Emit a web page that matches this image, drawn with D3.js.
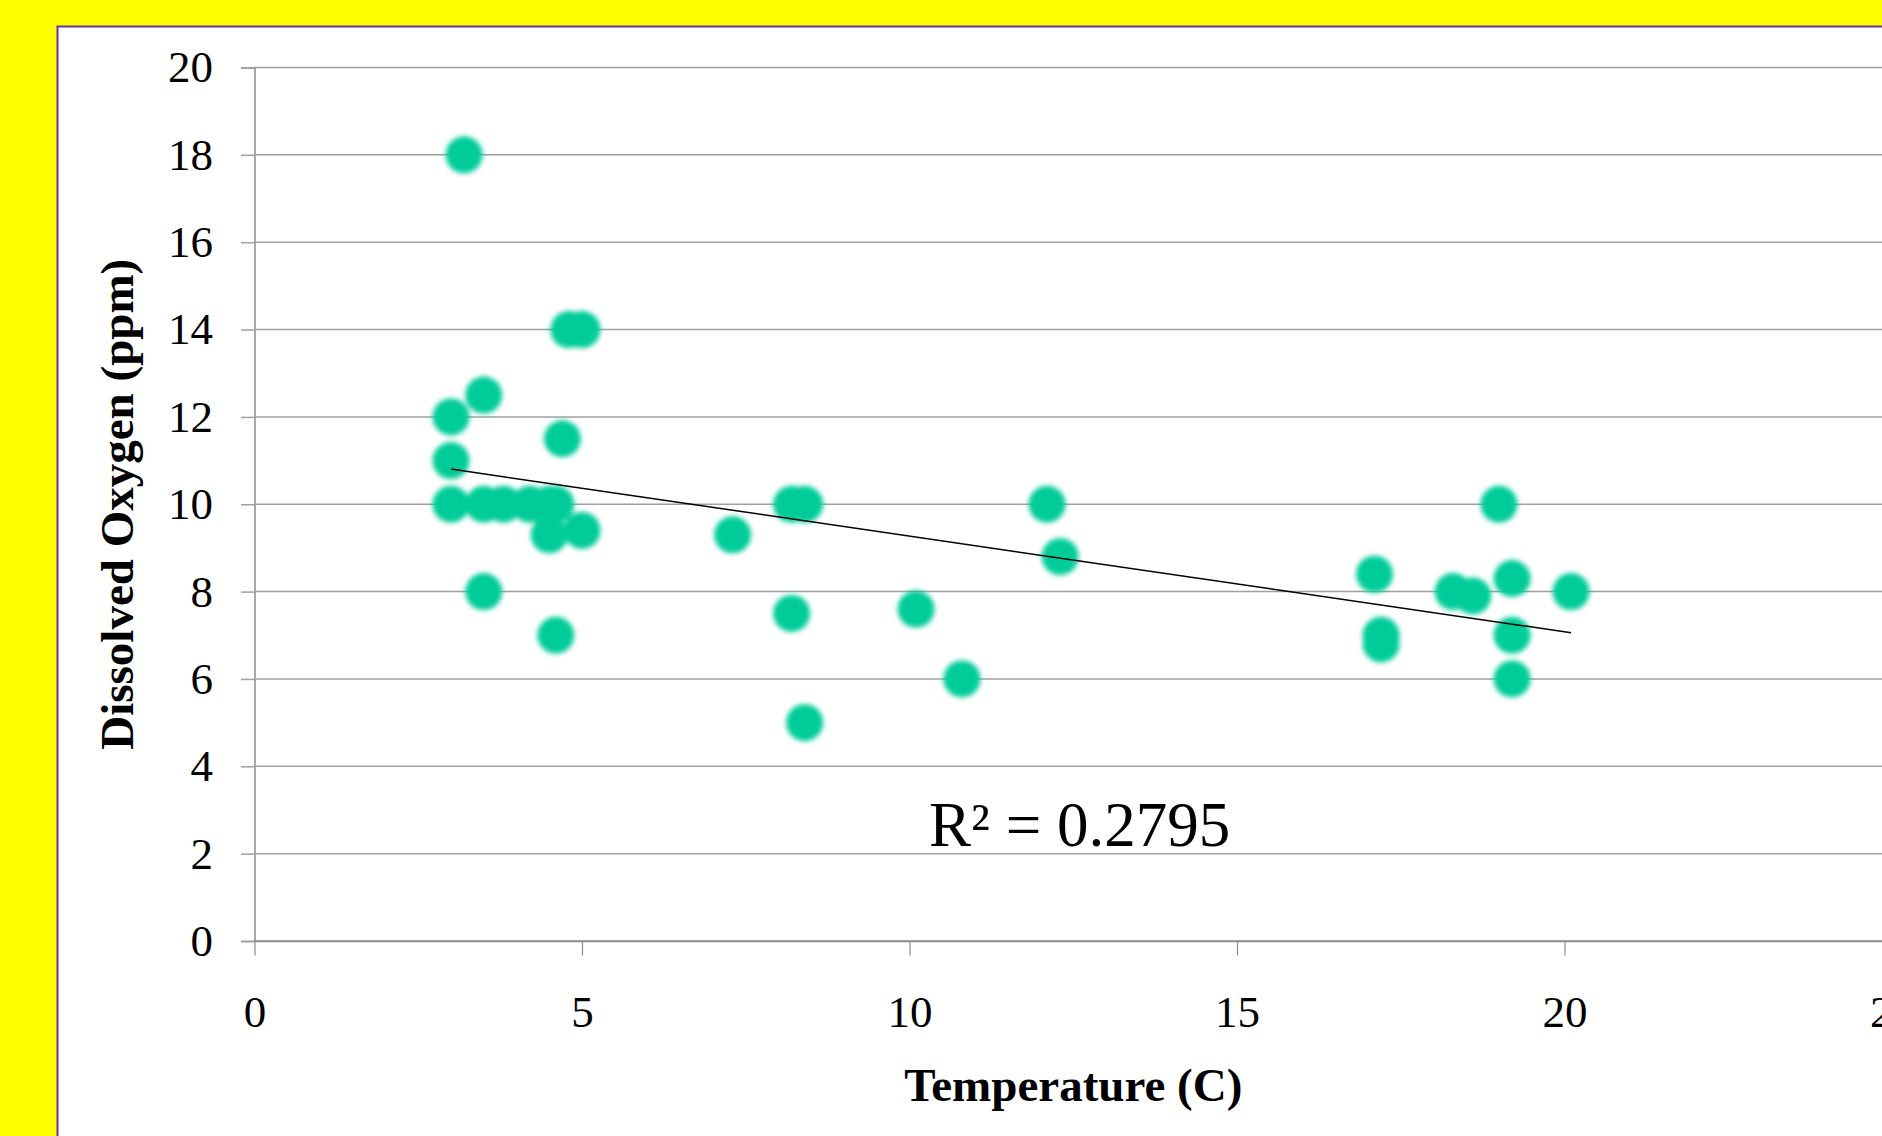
<!DOCTYPE html>
<html>
<head>
<meta charset="utf-8">
<script src="https://cdn.jsdelivr.net/npm/d3@7"></script>
<style>
  body { margin: 0; background: #ffff00; }
  text { font-family: "Liberation Serif", "Times New Roman", serif; fill: #000; }
</style>
</head>
<body>
<div id="graph"></div>
<script>
// temperature (C) and dissolved oxygen (ppm)
let temperature = [3.2, 3.5, 3.0, 3.0, 4.7, 4.8, 5.0,
                   3.0, 3.5, 3.8, 4.2, 4.5, 4.6,
                   4.5, 5.0, 3.5, 4.6,
                   7.3, 8.2, 8.4, 8.2, 8.4, 10.1, 10.8, 12.1, 12.3,
                   17.1, 17.2, 17.2, 18.3, 18.6, 19.0, 19.2, 19.2, 19.2, 20.1];
let oxygen = [18, 12.5, 12, 11, 11.5, 14, 14,
              10, 10, 10, 10, 10, 10,
              9.3, 9.4, 8, 7,
              9.3, 10, 10, 7.5, 5, 7.6, 6, 10, 8.8,
              8.4, 7, 6.8, 8, 7.9, 10, 8.3, 7, 6, 8];
let xTicks = [0, 5, 10, 15, 20, 25];
let yTicks = [0, 2, 4, 6, 8, 10, 12, 14, 16, 18, 20];
let r2Label = "R\u00b2 = 0.2795";

let width = 1882, height = 1136;
let margin = {left: 254.5, top: 67.5, right: -10, bottom: 195};

let svg = d3.select('#graph')
    .append("svg")
    .attr("width", width)
    .attr("height", height)
    .style("display", "block");

let defs = svg.append("defs");
defs.append("filter")
    .attr("id", "soft")
    .attr("x", "-50%").attr("y", "-50%")
    .attr("width", "200%").attr("height", "200%")
    .append("feGaussianBlur")
    .attr("stdDeviation", 2.8);

// white chart panel with purple border
svg.append("rect")
    .attr("x", 57.5)
    .attr("y", 26.5)
    .attr("width", width)
    .attr("height", height)
    .attr("fill", "white")
    .attr("stroke", "#7030a0")
    .attr("stroke-width", 2);

let data = temperature.map(function(t, i) { return {temp: t, oxy: oxygen[i]}; });

let x = d3.scaleLinear()
    .domain([0, 25])
    .range([margin.left, width - margin.right]);

let y = d3.scaleLinear()
    .domain([0, 20])
    .range([height - margin.bottom, margin.top]);

// horizontal gridlines + left axis
let yAxis = svg.append("g")
    .attr("transform", `translate(${margin.left}, 0)`)
    .call(d3.axisLeft(y).tickValues(yTicks).tickSize(13.5).tickPadding(28));
yAxis.select(".domain").attr("stroke", "#8c8c8c").attr("stroke-width", 1.5);
yAxis.selectAll(".tick line").attr("stroke", "#a0a0a0").attr("stroke-width", 1.5);
yAxis.selectAll(".tick text")
    .style("font-family", "Liberation Serif")
    .style("font-size", "45px");

svg.append("g")
    .selectAll("line")
    .data(yTicks.filter(function(d) { return d > 0; }))
    .enter()
    .append("line")
    .attr("x1", margin.left)
    .attr("x2", width + 20)
    .attr("y1", function(d) { return y(d); })
    .attr("y2", function(d) { return y(d); })
    .attr("stroke", "#a0a0a0")
    .attr("stroke-width", 1.5);

let xAxis = svg.append("g")
    .attr("transform", `translate(0, ${y(0)})`)
    .call(d3.axisBottom(x).tickValues(xTicks).tickSize(14.5).tickPadding(40).tickSizeOuter(0));
xAxis.select(".domain").attr("stroke", "#8c8c8c").attr("stroke-width", 1.5);
xAxis.selectAll(".tick line").attr("stroke", "#8c8c8c").attr("stroke-width", 1.2);
xAxis.selectAll(".tick text")
    .style("font-family", "Liberation Serif")
    .style("font-size", "45px");

svg.append("line")
    .attr("x1", margin.left)
    .attr("x2", width + 20)
    .attr("y1", y(0))
    .attr("y2", y(0))
    .attr("stroke", "#8c8c8c")
    .attr("stroke-width", 1.5);

// points
svg.append("g")
    .attr("filter", "url(#soft)")
    .selectAll("circle")
    .data(data)
    .enter()
    .append("circle")
    .attr("cx", function(d) { return x(d.temp); })
    .attr("cy", function(d) { return y(d.oxy); })
    .attr("r", 18.5)
    .attr("fill", "#00cc99");

// linear trendline (least squares), drawn over the data range
let mx = d3.mean(data, function(d) { return d.temp; });
let my = d3.mean(data, function(d) { return d.oxy; });
let sxy = d3.sum(data, function(d) { return (d.temp - mx) * (d.oxy - my); });
let sxx = d3.sum(data, function(d) { return (d.temp - mx) * (d.temp - mx); });
let slope = sxy / sxx;
let intercept = my - slope * mx;
let xr = d3.extent(data, function(d) { return d.temp; });

svg.append("path")
    .datum(xr)
    .attr("fill", "none")
    .attr("stroke", "black")
    .attr("stroke-width", 1.5)
    .attr("d", d3.line()
        .x(function(d) { return x(d); })
        .y(function(d) { return y(intercept + slope * d); })
    );

svg.append("text")
    .attr("x", 929)
    .attr("y", 846)
    .style("font-size", "63px")
    .text(r2Label);

// axis titles
svg.append("text")
    .attr("transform", `translate(${(margin.left + width - margin.right) / 2}, 1101)`)
    .style("text-anchor", "middle")
    .style("font-size", "47px")
    .style("font-weight", "bold")
    .text("Temperature (C)");

svg.append("text")
    .attr("transform", `translate(133, ${(y(0) + y(20)) / 2}) rotate(-90)`)
    .style("text-anchor", "middle")
    .style("font-size", "47px")
    .style("font-weight", "bold")
    .text("Dissolved Oxygen (ppm)");
</script>
</body>
</html>
